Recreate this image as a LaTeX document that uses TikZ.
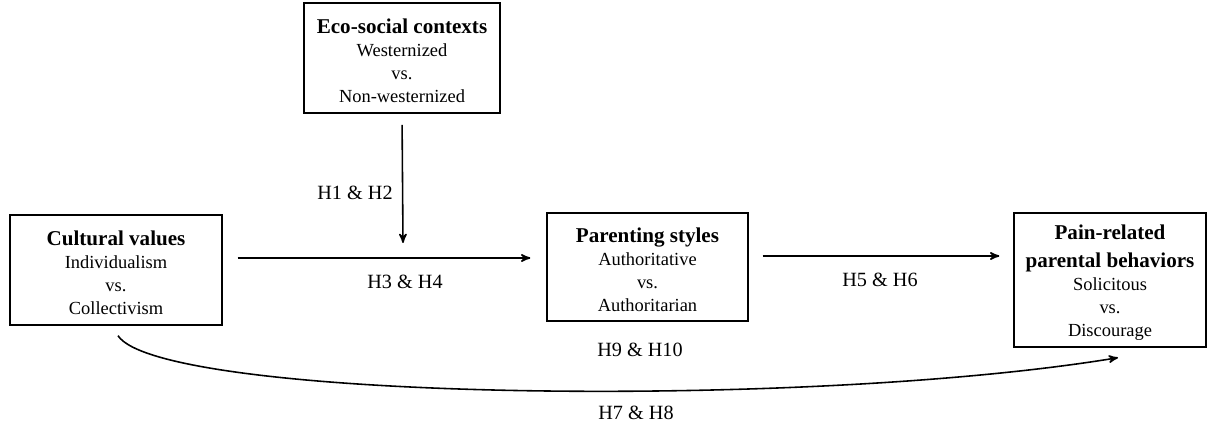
\documentclass[tikz,border=0pt]{standalone}
\usepackage{fontspec}
\setmainfont{Liberation Serif}
\usetikzlibrary{arrows}
\tikzset{
	box/.style = {draw=black, line width=0.8pt, align=center, inner sep=0pt,
		text centered, font=\fontsize{10.5}{13}\selectfont},% boite de variable
	hyp/.style = {inner sep=0pt, font=\fontsize{11.5}{13}\selectfont},% etiquette d'hypothese
	link/.style = {->, >=stealth', line width=0.9pt}% fleche
}
\newcommand{\boxtitle}[1]{{\fontsize{12}{14}\selectfont\bfseries\rule{0pt}{11.5pt}#1}}

\begin{document}
\begin{tikzpicture}[x=0.02cm, y=-0.02cm]
	\useasboundingbox (0,0) rectangle (1209,431);
	\node [box, minimum width=3.92cm, minimum height=2.2cm] (eco) at (402,58)
		{\boxtitle{Eco-social contexts}\\ Westernized\\ vs.\\ Non-westernized};
	\node [box, minimum width=4.24cm, minimum height=2.2cm] (cult) at (116,270)
		{\boxtitle{Cultural values}\\ Individualism\\ vs.\\ Collectivism};
	\node [box, minimum width=4.02cm, minimum height=2.16cm] (par) at (647.5,267)
		{\boxtitle{Parenting styles}\\ Authoritative\\ vs.\\ Authoritarian};
	\node [box, minimum width=3.84cm, minimum height=2.68cm] (pain) at (1110,280)
		{\boxtitle{Pain-related}\\[3pt] \boxtitle{parental behaviors}\\ Solicitous\\ vs.\\ Discourage};
	\coordinate (mod) at (403,243);% fin de la fleche de moderation
	\draw [link, shorten <=0.24cm] (eco.south |- 0,113) -- (mod);
	\draw [link, shorten <=0.3cm, shorten >=0.32cm] (cult.east |- 0,258) -- (par.west |- 0,258);
	\draw [link, shorten <=0.28cm, shorten >=0.28cm] (par.east |- 0,256) -- (pain.west |- 0,256);
	\draw [link] ([shift={(2,10)}]cult.south) .. controls (160,400) and (800,410)
		.. ([shift={(8,10)}]pain.south);
	\node [hyp] (h12) at (355,193) {H1 \& H2};
	\node [hyp] (h34) at (405,282) {H3 \& H4};
	\node [hyp] (h56) at (880,280) {H5 \& H6};
	\node [hyp] (h910) at (640,350) {H9 \& H10};
	\node [hyp] (h78) at (636,413) {H7 \& H8};
\end{tikzpicture}
\end{document}
